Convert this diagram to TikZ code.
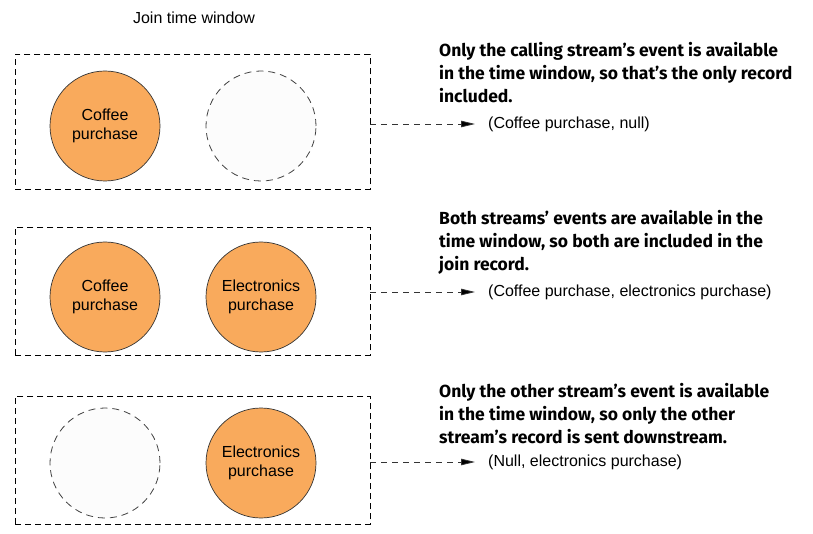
\documentclass[tikz,border=0pt]{standalone}
\usepackage{fontspec}
\setmainfont{Liberation Sans}
\newfontfamily\notefont{Fira Sans}
\usetikzlibrary{arrows.meta}
\definecolor{evorange}{HTML}{F9AA5C}
\definecolor{emptyfill}{HTML}{FCFCFC}
\tikzset{
  windowbox/.style={draw=black, dash pattern=on 6pt off 4pt, line width=0.8pt},
  event/.style={circle, draw=black!80, line width=0.7pt, fill=evorange, minimum size=110pt, inner sep=0pt, align=center, font=\fontsize{16}{19}\selectfont},
  noevent/.style={circle, draw=black!75, dash pattern=on 7pt off 5pt, line width=0.8pt, fill=emptyfill, minimum size=110pt, inner sep=0pt},
  result/.style={draw=black!80, dash pattern=on 6pt off 5pt, line width=0.8pt, -{Triangle[length=14pt,width=6.5pt,fill=black]}},
  note/.style={anchor=base west, align=left, inner sep=0pt, font=\notefont\bfseries\fontsize{17.5}{23}\selectfont},
  reslabel/.style={anchor=west, inner sep=0pt, font=\fontsize{16}{19}\selectfont},
}
\begin{document}
\begin{tikzpicture}[x=1pt,y=-1pt]
\useasboundingbox (0,0) rectangle (813,534);
\node[font=\fontsize{16}{19}\selectfont] (title) at (194,18) {Join time window};

% window 1
\node[windowbox, minimum width=355pt, minimum height=135pt, anchor=north west] (w1) at (15,54) {};
\node[event] (c1) at (105,126) {Coffee\\purchase};
\node[noevent] (e1) at (261,126) {};
\coordinate (s1) at (370,124);
\node[reslabel] (r1) at (488,124) {(Coffee purchase, null)};
\draw[result] (s1) -- ([xshift=-13pt]r1.west);
\node[note] (n1) at (439,103) {Only the calling stream’s event is available\\in the time window, so that’s the only record\\included.};

% window 2
\node[windowbox, minimum width=355pt, minimum height=128pt, anchor=north west] (w2) at (15,227) {};
\node[event] (c2) at (105,297) {Coffee\\purchase};
\node[event] (e2) at (261,297) {Electronics\\purchase};
\coordinate (s2) at (370,292);
\node[reslabel] (r2) at (488,292) {(Coffee purchase, electronics purchase)};
\draw[result] (s2) -- ([xshift=-13pt]r2.west);
\node[note] (n2) at (439,271) {Both streams’ events are available in the\\time window, so both are included in the\\join record.};

% window 3
\node[windowbox, minimum width=355pt, minimum height=128pt, anchor=north west] (w3) at (15,396) {};
\node[noevent] (c3) at (105,463) {};
\node[event] (e3) at (261,463) {Electronics\\purchase};
\coordinate (s3) at (370,462);
\node[reslabel] (r3) at (488,462) {(Null, electronics purchase)};
\draw[result] (s3) -- ([xshift=-13pt]r3.west);
\node[note] (n3) at (439,443) {Only the other stream’s event is available\\in the time window, so only the other\\stream’s record is sent downstream.};
\end{tikzpicture}
\end{document}
